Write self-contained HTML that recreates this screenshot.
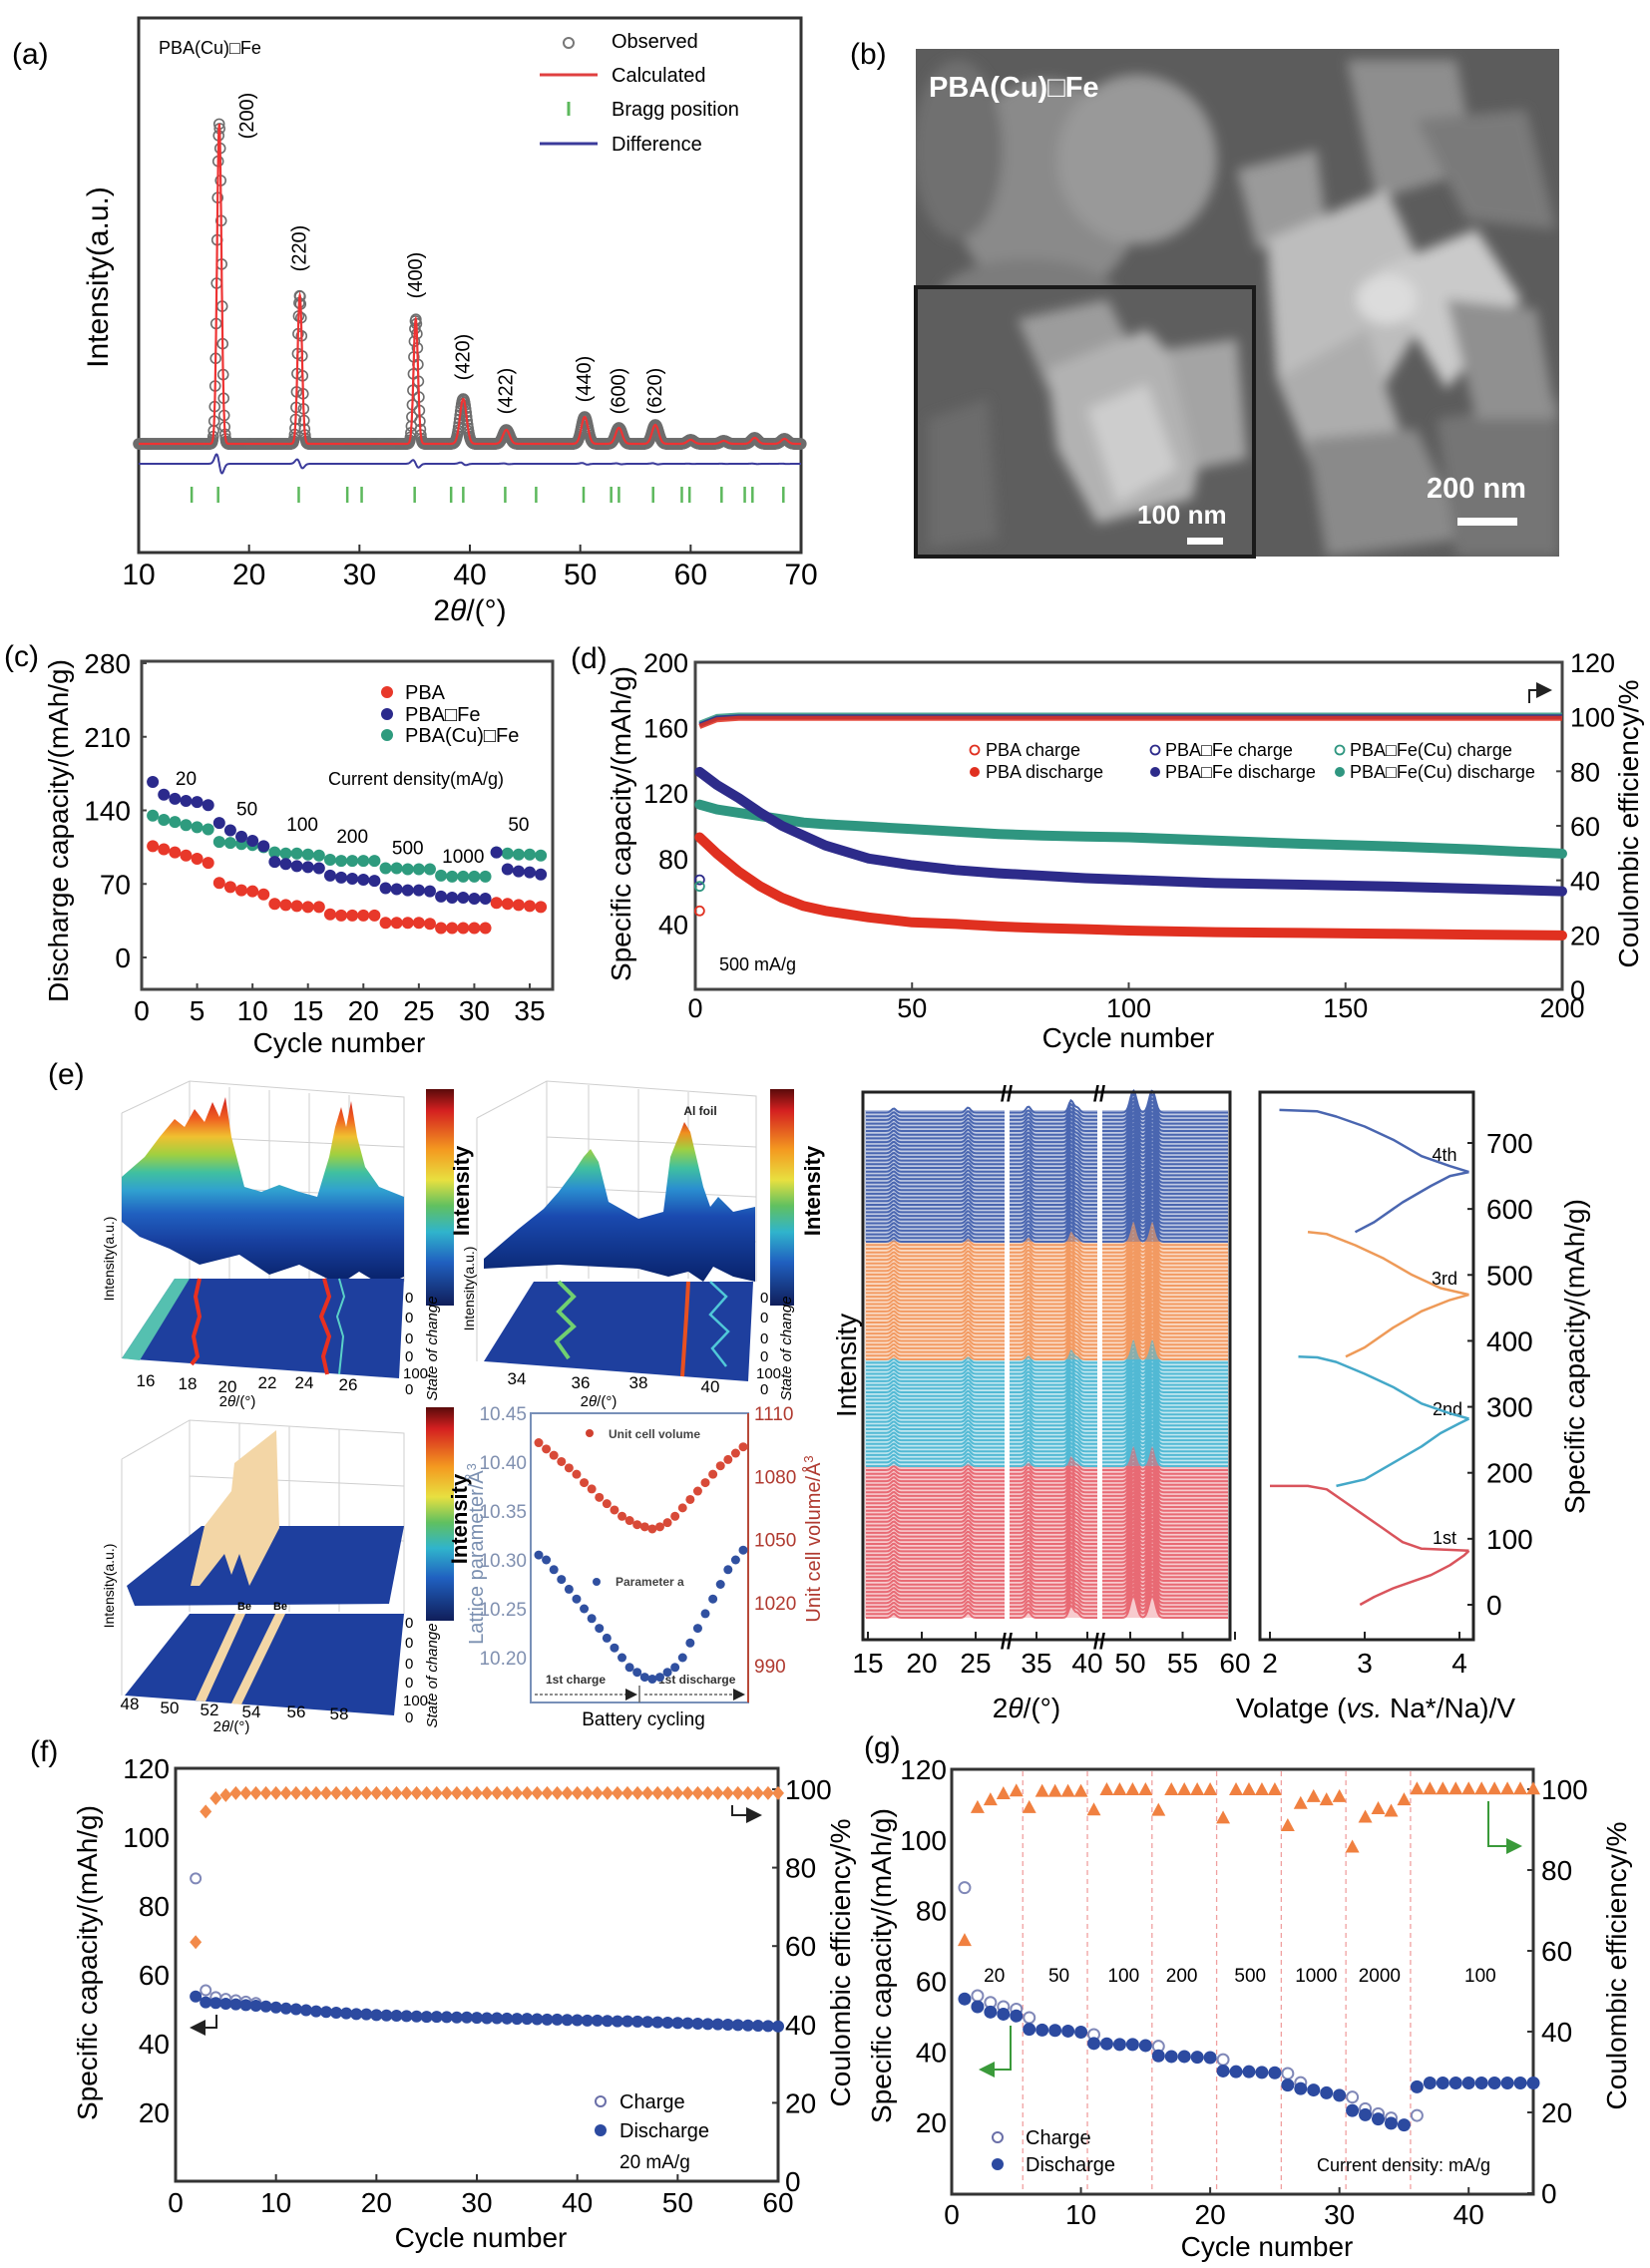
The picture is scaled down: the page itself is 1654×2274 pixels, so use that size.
<!DOCTYPE html>
<html><head><meta charset="utf-8"><title>PBA figure</title>
<style>
html,body{margin:0;padding:0;background:#fff}
svg{display:block;font-family:"Liberation Sans",Arial,sans-serif}
</style></head><body>
<svg id="fig" xmlns="http://www.w3.org/2000/svg" width="1654" height="2274" viewBox="0 0 1654 2274">
<defs>
<linearGradient id="cbar" x1="0" y1="0" x2="0" y2="1">
<stop offset="0" stop-color="#5a0a0a"/><stop offset="0.1" stop-color="#d42020"/><stop offset="0.28" stop-color="#f49a20"/><stop offset="0.42" stop-color="#e8e040"/><stop offset="0.54" stop-color="#60c060"/><stop offset="0.66" stop-color="#30b4cc"/><stop offset="0.8" stop-color="#2060c0"/><stop offset="1" stop-color="#101e5a"/>
</linearGradient>
<linearGradient id="surf1" gradientUnits="userSpaceOnUse" x1="0" y1="1100" x2="0" y2="1280">
<stop offset="0" stop-color="#d02020"/><stop offset="0.12" stop-color="#f06020"/><stop offset="0.22" stop-color="#f0c030"/><stop offset="0.32" stop-color="#a0d040"/><stop offset="0.42" stop-color="#40c0a0"/><stop offset="0.52" stop-color="#30a0d0"/><stop offset="0.65" stop-color="#2060c0"/><stop offset="0.8" stop-color="#1840a0"/><stop offset="1" stop-color="#0a2570"/>
</linearGradient>
<linearGradient id="surf2" gradientUnits="userSpaceOnUse" x1="0" y1="1120" x2="0" y2="1280">
<stop offset="0" stop-color="#d02020"/><stop offset="0.1" stop-color="#f09020"/><stop offset="0.2" stop-color="#a0d040"/><stop offset="0.32" stop-color="#40c0a0"/><stop offset="0.45" stop-color="#2a8ed0"/><stop offset="0.62" stop-color="#1a4ab0"/><stop offset="1" stop-color="#0a2570"/>
</linearGradient>
<filter id="blur6"><feGaussianBlur stdDeviation="6"/></filter>
<marker id="arrK" markerWidth="8" markerHeight="8" refX="6" refY="4" orient="auto"><path d="M0,0 L8,4 L0,8 z" fill="#222"/></marker>
<marker id="arrG" markerWidth="8" markerHeight="8" refX="6" refY="4" orient="auto"><path d="M0,0 L8,4 L0,8 z" fill="#3a9a3a"/></marker>
</defs>

<!-- ===== Panel (a) ===== -->
<g id="pa">
<text x="12" y="64" font-size="30">(a)</text>
<rect x="139" y="18" width="664" height="536" fill="none" stroke="#333" stroke-width="3"/>
<text x="159" y="54" font-size="18">PBA(Cu)□Fe</text>
<text transform="translate(108,278) rotate(-90)" text-anchor="middle" font-size="30">Intensity(a.u.)</text>
<text x="471" y="622" text-anchor="middle" font-size="30">2<tspan font-style="italic">θ</tspan>/(°)</text>
<g>
<circle cx="570" cy="43" r="5" fill="none" stroke="#777" stroke-width="2"/>
<text x="613" y="48" font-size="20">Observed</text>
<line x1="541" y1="75" x2="599" y2="75" stroke="#e04040" stroke-width="3"/>
<text x="613" y="82" font-size="20">Calculated</text>
<line x1="570" y1="102" x2="570" y2="116" stroke="#5cb85c" stroke-width="3"/>
<text x="613" y="116" font-size="20">Bragg position</text>
<line x1="541" y1="144" x2="599" y2="144" stroke="#3b3b9b" stroke-width="3"/>
<text x="613" y="151" font-size="20">Difference</text>
</g>
<g id="pa-plot"></g>
</g>

<!-- ===== Panel (b) SEM ===== -->
<g id="pb">
<text x="852" y="64" font-size="30">(b)</text>
<svg x="918" y="49" width="645" height="509" viewBox="918 49 645 509">
<rect x="918" y="49" width="645" height="509" fill="#5c5c5c"/>
<g filter="url(#blur6)">
<ellipse cx="1050" cy="190" rx="95" ry="110" fill="#8a8a8a"/>
<ellipse cx="1140" cy="160" rx="80" ry="85" fill="#999"/>
<ellipse cx="960" cy="150" rx="45" ry="90" fill="#707070"/>
<ellipse cx="1030" cy="300" rx="90" ry="40" fill="#7c7c7c"/>
<polygon points="1350,60 1460,60 1480,170 1380,200" fill="#8e8e8e"/>
<polygon points="1240,170 1320,150 1330,230 1260,250" fill="#9a9a9a"/>
<polygon points="1270,240 1390,190 1440,300 1380,400 1280,380" fill="#bdbdbd"/>
<polygon points="1380,270 1480,230 1525,300 1450,390" fill="#cacaca"/>
<polygon points="1280,380 1370,330 1410,450 1320,480" fill="#adadad"/>
<polygon points="1420,120 1530,110 1560,230 1470,220" fill="#7a7a7a"/>
<polygon points="1310,440 1420,430 1470,540 1330,558" fill="#8a8a8a"/>
<polygon points="1440,420 1563,400 1563,558 1460,558" fill="#747474"/>
<polygon points="1450,300 1540,310 1560,420 1480,420" fill="#909090"/>
<ellipse cx="1390" cy="300" rx="30" ry="25" fill="#dcdcdc"/>
</g>
</svg>
<svg x="918" y="288" width="339" height="270" viewBox="918 288 339 270">
<rect x="918" y="288" width="339" height="270" fill="#5e5e5e"/>
<g filter="url(#blur6)">
<polygon points="1020,320 1110,300 1140,360 1050,390" fill="#9c9c9c"/>
<polygon points="1050,370 1150,330 1215,400 1195,500 1100,525 1060,450" fill="#b2b2b2"/>
<polygon points="1090,410 1150,385 1180,470 1120,505" fill="#cdcdcd"/>
<polygon points="1170,350 1240,340 1250,460 1200,470" fill="#a4a4a4"/>
<polygon points="930,420 990,400 1000,540 930,550" fill="#6c6c6c"/>
</g>
</svg>
<rect x="918" y="288" width="339" height="270" fill="none" stroke="#1a1a1a" stroke-width="4"/>
<text x="931" y="97" font-size="29" font-weight="bold" fill="#fff">PBA(Cu)□Fe</text>
<text x="1430" y="499" font-size="29" font-weight="bold" fill="#fff">200 nm</text>
<rect x="1461" y="519" width="60" height="8" fill="#fff"/>
<text x="1140" y="525" font-size="26" font-weight="bold" fill="#fff">100 nm</text>
<rect x="1190" y="539" width="36" height="7" fill="#fff"/>
</g>

<!-- ===== Panel (c) ===== -->
<g id="pc">
<text x="4" y="668" font-size="30">(c)</text>
<rect x="142" y="663" width="412" height="329" fill="none" stroke="#444" stroke-width="3"/>
<text transform="translate(68,833) rotate(-90)" text-anchor="middle" font-size="28">Discharge capacity/(mAh/g)</text>
<text x="340" y="1055" text-anchor="middle" font-size="28">Cycle number</text>
<g>
<circle cx="388" cy="694" r="6" fill="#e8382a"/>
<text x="406" y="701" font-size="20">PBA</text>
<circle cx="388" cy="716" r="6" fill="#2b2a8c"/>
<text x="406" y="723" font-size="20">PBA□Fe</text>
<circle cx="388" cy="737" r="6" fill="#2e9b7e"/>
<text x="406" y="744" font-size="20">PBA(Cu)□Fe</text>
<text x="329" y="787" font-size="18">Current density(mA/g)</text>
</g>
<g id="pc-plot"></g>
</g>

<!-- ===== Panel (d) ===== -->
<g id="pd">
<text x="572" y="670" font-size="30">(d)</text>
<rect x="697" y="664" width="869" height="328" fill="none" stroke="#444" stroke-width="3"/>
<text transform="translate(632,826) rotate(-90)" text-anchor="middle" font-size="28">Specific capacity/(mAh/g)</text>
<text transform="translate(1642,826) rotate(-90)" text-anchor="middle" font-size="28">Coulombic efficiency/%</text>
<text x="1131" y="1050" text-anchor="middle" font-size="28">Cycle number</text>
<text x="721" y="973" font-size="18">500 mA/g</text>
<path d="M1533,705 L1533,692 L1552,692" fill="none" stroke="#222" stroke-width="2" marker-end="url(#arrK)"/>
<g font-size="18">
<circle cx="977" cy="752" r="4.5" fill="none" stroke="#e03020" stroke-width="1.8"/>
<text x="988" y="758">PBA charge</text>
<circle cx="977" cy="774" r="5" fill="#e03020"/>
<text x="988" y="780">PBA discharge</text>
<circle cx="1158" cy="752" r="4.5" fill="none" stroke="#2d2b8a" stroke-width="1.8"/>
<text x="1168" y="758">PBA□Fe charge</text>
<circle cx="1158" cy="774" r="5" fill="#2d2b8a"/>
<text x="1168" y="780">PBA□Fe discharge</text>
<circle cx="1343" cy="752" r="4.5" fill="none" stroke="#2f9680" stroke-width="1.8"/>
<text x="1353" y="758">PBA□Fe(Cu) charge</text>
<circle cx="1343" cy="774" r="5" fill="#2f9680"/>
<text x="1353" y="780">PBA□Fe(Cu) discharge</text>
</g>
<g id="pd-plot"></g>
</g>

<!-- ===== Panel (e) ===== -->
<g id="pe">
<text x="48" y="1087" font-size="30">(e)</text>

<!-- 3D plot 1 -->
<g>
<g stroke="#cfcfcf" stroke-width="1" fill="none">
<path d="M122,1116 L190,1084 L405,1100 L405,1285 M190,1084 L190,1282 M122,1116 L122,1362 M230,1090 L230,1282 M270,1093 L270,1282 M310,1096 L310,1282 M350,1098 L350,1282 M190,1140 L405,1150 M190,1190 L405,1200 M190,1240 L405,1245"/>
</g>
<polygon points="122,1180 145,1160 160,1140 175,1122 185,1130 195,1112 205,1125 213,1105 220,1120 226,1100 232,1140 245,1190 262,1195 280,1188 300,1195 318,1200 330,1160 336,1130 342,1110 347,1130 352,1104 358,1140 366,1170 380,1190 405,1200 405,1280 385,1290 360,1275 340,1288 300,1268 270,1278 240,1258 200,1268 170,1252 140,1240 122,1225" fill="url(#surf1)"/>
<polygon points="175,1282 405,1282 400,1382 122,1362" fill="#1e3f9e"/>
<polygon points="122,1362 175,1282 190,1282 140,1364" fill="#55c0b0"/>
<path d="M200,1282 L196,1300 L200,1320 L194,1340 L198,1360 L192,1368" stroke="#e83020" stroke-width="4" fill="none"/>
<path d="M325,1282 L330,1300 L322,1320 L330,1340 L324,1360 L328,1378" stroke="#e83020" stroke-width="4" fill="none"/>
<path d="M340,1282 L345,1300 L338,1320 L344,1340 L340,1378" stroke="#5ad0c8" stroke-width="2" fill="none"/>
<rect x="427" y="1092" width="28" height="217" fill="url(#cbar)"/>
<text transform="translate(470,1194) rotate(-90)" text-anchor="middle" font-size="22" font-weight="bold">Intensity</text>
<text transform="translate(114,1262) rotate(-90)" text-anchor="middle" font-size="14">Intensity(a.u.)</text>
<g font-size="17" text-anchor="middle">
<text x="146" y="1390">16</text><text x="188" y="1393">18</text><text x="228" y="1396">20</text><text x="268" y="1392">22</text><text x="305" y="1392">24</text><text x="349" y="1394">26</text>
</g>
<text x="238" y="1410" text-anchor="middle" font-size="15">2<tspan font-style="italic">θ</tspan>/(°)</text>
<g font-size="15"><text x="406" y="1306">0</text><text x="406" y="1326">0</text><text x="406" y="1347">0</text><text x="406" y="1365">0</text><text x="404" y="1382">100</text><text x="406" y="1398">0</text></g>
<text transform="translate(438,1352) rotate(-90)" text-anchor="middle" font-size="15" font-style="italic">State of change</text>
</g>

<!-- 3D plot 2 -->
<g>
<g stroke="#cfcfcf" stroke-width="1" fill="none">
<path d="M478,1121 L548,1084 L758,1099 L758,1285 M548,1084 L548,1282 M478,1121 L478,1365 M590,1088 L590,1282 M640,1092 L640,1282 M690,1095 L690,1282 M548,1140 L758,1150 M548,1190 L758,1200 M548,1240 L758,1245"/>
</g>
<polygon points="485,1262 520,1232 545,1212 560,1195 575,1175 585,1160 592,1152 600,1165 610,1205 640,1222 665,1215 672,1160 680,1140 686,1125 692,1135 698,1160 705,1190 712,1210 720,1200 735,1215 757,1210 757,1285 735,1280 715,1270 705,1285 690,1275 670,1280 640,1272 600,1270 560,1268 520,1270 485,1272" fill="url(#surf2)"/>
<text x="702" y="1118" text-anchor="middle" font-size="12" font-weight="bold" fill="#222">Al foil</text>
<polygon points="535,1285 755,1285 750,1385 485,1365" fill="#1e3f9e"/>
<path d="M560,1285 L575,1300 L560,1315 L575,1330 L558,1345 L570,1362" stroke="#70d070" stroke-width="4" fill="none"/>
<path d="M690,1285 L688,1320 L684,1380" stroke="#e85020" stroke-width="4" fill="none"/>
<path d="M712,1285 L728,1300 L712,1318 L730,1335 L714,1352 L728,1370" stroke="#50c8d8" stroke-width="2.5" fill="none"/>
<rect x="772" y="1092" width="24" height="217" fill="url(#cbar)"/>
<text transform="translate(822,1194) rotate(-90)" text-anchor="middle" font-size="22" font-weight="bold">Intensity</text>
<text transform="translate(475,1292) rotate(-90)" text-anchor="middle" font-size="14">Intensity(a.u.)</text>
<g font-size="17" text-anchor="middle">
<text x="518" y="1388">34</text><text x="582" y="1392">36</text><text x="640" y="1392">38</text><text x="712" y="1396">40</text>
</g>
<text x="600" y="1410" text-anchor="middle" font-size="15">2<tspan font-style="italic">θ</tspan>/(°)</text>
<g font-size="15"><text x="762" y="1306">0</text><text x="762" y="1326">0</text><text x="762" y="1347">0</text><text x="762" y="1365">0</text><text x="758" y="1382">100</text><text x="762" y="1398">0</text></g>
<text transform="translate(793,1352) rotate(-90)" text-anchor="middle" font-size="15" font-style="italic">State of change</text>
</g>

<!-- 3D plot 3 -->
<g>
<g stroke="#cfcfcf" stroke-width="1" fill="none">
<path d="M122,1463 L190,1424 L405,1437 L405,1618 M190,1424 L190,1616 M122,1463 L122,1700 M240,1427 L240,1616 M290,1430 L290,1616 M340,1433 L340,1616 M190,1480 L405,1490 M190,1540 L405,1545"/>
</g>
<polygon points="127,1590 202,1530 405,1530 390,1608 135,1610" fill="#1e3f9e"/>
<polygon points="191,1590 205,1530 232,1495 235,1467 277,1434 280,1532 250,1590 240,1558 232,1579 225,1558 200,1590" fill="#f3d6a6"/>
<polygon points="190,1618 405,1618 395,1720 125,1700" fill="#1e3f9e"/>
<polygon points="236,1618 246,1618 206,1706 196,1705" fill="#f3d6a6"/>
<polygon points="276,1618 286,1618 242,1709 232,1708" fill="#f3d6a6"/>
<text x="245" y="1614" text-anchor="middle" font-size="11" font-weight="bold">Be</text>
<text x="281" y="1614" text-anchor="middle" font-size="11" font-weight="bold">Be</text>
<rect x="427" y="1411" width="28" height="214" fill="url(#cbar)"/>
<text transform="translate(468,1523) rotate(-90)" text-anchor="middle" font-size="22" font-weight="bold">Intensity</text>
<text transform="translate(114,1590) rotate(-90)" text-anchor="middle" font-size="14">Intensity(a.u.)</text>
<g font-size="17" text-anchor="middle">
<text x="130" y="1714">48</text><text x="170" y="1718">50</text><text x="210" y="1720">52</text><text x="252" y="1722">54</text><text x="297" y="1722">56</text><text x="340" y="1724">58</text>
</g>
<text x="232" y="1736" text-anchor="middle" font-size="15">2<tspan font-style="italic">θ</tspan>/(°)</text>
<g font-size="15"><text x="406" y="1632">0</text><text x="406" y="1652">0</text><text x="406" y="1673">0</text><text x="406" y="1692">0</text><text x="404" y="1710">100</text><text x="406" y="1727">0</text></g>
<text transform="translate(438,1680) rotate(-90)" text-anchor="middle" font-size="15" font-style="italic">State of change</text>
</g>

<!-- lattice plot -->
<g>
<rect x="532" y="1417" width="218" height="290" fill="none" stroke="#7890b8" stroke-width="2"/>
<line x1="750" y1="1417" x2="750" y2="1707" stroke="#b84a3a" stroke-width="2"/>
<text transform="translate(484,1558) rotate(-90)" text-anchor="middle" font-size="20" fill="#7a8fb0">Lattice parameter/Å<tspan baseline-shift="super" font-size="13">3</tspan></text>
<text transform="translate(822,1543) rotate(-90)" text-anchor="middle" font-size="20" fill="#b03a30">Unit cell volume/Å<tspan baseline-shift="super" font-size="13">3</tspan></text>
<text x="645" y="1730" text-anchor="middle" font-size="19">Battery cycling</text>
<circle cx="591" cy="1437" r="4" fill="#d04030"/>
<text x="610" y="1442" font-size="12" font-weight="bold" fill="#444">Unit cell volume</text>
<circle cx="598" cy="1586" r="4" fill="#3050a0"/>
<text x="617" y="1590" font-size="12" font-weight="bold" fill="#444">Parameter a</text>
<text x="547" y="1688" font-size="12" font-weight="bold" fill="#333">1st charge</text>
<text x="660" y="1688" font-size="12" font-weight="bold" fill="#333">1st discharge</text>
<line x1="536" y1="1699" x2="636" y2="1699" stroke="#666" stroke-width="1.5" stroke-dasharray="3,2" marker-end="url(#arrK)"/>
<line x1="646" y1="1699" x2="744" y2="1699" stroke="#666" stroke-width="1.5" stroke-dasharray="3,2" marker-end="url(#arrK)"/>
<line x1="641" y1="1690" x2="641" y2="1707" stroke="#666" stroke-width="1.5"/>
<g id="lat-plot"></g>
</g>

<!-- stacked XRD -->
<g>
<g id="xrd-plot"></g>
<rect x="865" y="1095" width="368" height="549" fill="none" stroke="#222" stroke-width="3"/>
<rect x="1007" y="1098" width="5" height="543" fill="#fff"/>
<rect x="1100" y="1098" width="5" height="543" fill="#fff"/>
<text x="1009" y="1104" text-anchor="middle" font-size="22" font-weight="bold">//</text>
<text x="1102" y="1104" text-anchor="middle" font-size="22" font-weight="bold">//</text>
<text x="1009" y="1653" text-anchor="middle" font-size="22" font-weight="bold">//</text>
<text x="1102" y="1653" text-anchor="middle" font-size="22" font-weight="bold">//</text>
<text transform="translate(858,1369) rotate(-90)" text-anchor="middle" font-size="28">Intensity</text>
<text x="1029" y="1722" text-anchor="middle" font-size="28">2<tspan font-style="italic">θ</tspan>/(°)</text>
</g>

<!-- voltage profile -->
<g>
<rect x="1263" y="1095" width="214" height="549" fill="none" stroke="#222" stroke-width="3"/>
<text transform="translate(1588,1360) rotate(-90)" text-anchor="middle" font-size="28">Specific capacity/(mAh/g)</text>
<text x="1379" y="1722" text-anchor="middle" font-size="28">Volatge (<tspan font-style="italic">vs.</tspan> Na*/Na)/V</text>
<text x="1448" y="1548" text-anchor="middle" font-size="18">1st</text>
<text x="1451" y="1419" text-anchor="middle" font-size="18">2nd</text>
<text x="1448" y="1288" text-anchor="middle" font-size="18">3rd</text>
<text x="1448" y="1164" text-anchor="middle" font-size="18">4th</text>
<g id="volt-plot"></g>
</g>
</g>

<!-- ===== Panel (f) ===== -->
<g id="pf">
<text x="30" y="1766" font-size="30">(f)</text>
<rect x="176" y="1773" width="604" height="414" fill="none" stroke="#333" stroke-width="3"/>
<text transform="translate(97,1968) rotate(-90)" text-anchor="middle" font-size="28">Specific capacity/(mAh/g)</text>
<text transform="translate(852,1968) rotate(-90)" text-anchor="middle" font-size="28">Coulombic efficiency/%</text>
<text x="482" y="2253" text-anchor="middle" font-size="28">Cycle number</text>
<circle cx="602" cy="2107" r="5" fill="none" stroke="#6a6fa8" stroke-width="2"/>
<text x="621" y="2114" font-size="20">Charge</text>
<circle cx="602" cy="2136" r="6" fill="#2c4aa0"/>
<text x="621" y="2143" font-size="20">Discharge</text>
<text x="621" y="2174" font-size="19">20 mA/g</text>
<path d="M217,2020 L217,2033 L194,2033" fill="none" stroke="#222" stroke-width="2" marker-end="url(#arrK)"/>
<path d="M734,1810 L734,1820 L760,1820" fill="none" stroke="#222" stroke-width="2" marker-end="url(#arrK)"/>
<g id="pf-plot"></g>
</g>

<!-- ===== Panel (g) ===== -->
<g id="pg">
<text x="866" y="1762" font-size="30">(g)</text>
<rect x="954" y="1774" width="583" height="426" fill="none" stroke="#333" stroke-width="3"/>
<text transform="translate(893,1971) rotate(-90)" text-anchor="middle" font-size="28">Specific capacity/(mAh/g)</text>
<text transform="translate(1630,1971) rotate(-90)" text-anchor="middle" font-size="28">Coulombic efficiency/%</text>
<text x="1270" y="2262" text-anchor="middle" font-size="28">Cycle number</text>
<circle cx="1000" cy="2143" r="5" fill="none" stroke="#6a6fa8" stroke-width="2"/>
<text x="1028" y="2150" font-size="20">Charge</text>
<circle cx="1000" cy="2170" r="6" fill="#2c4aa0"/>
<text x="1028" y="2177" font-size="20">Discharge</text>
<text x="1320" y="2177" font-size="18">Current density: mA/g</text>
<path d="M1013,2031 L1013,2075 L985,2075" fill="none" stroke="#3a9a3a" stroke-width="2" marker-end="url(#arrG)"/>
<path d="M1492,1806 L1492,1851 L1522,1851" fill="none" stroke="#3a9a3a" stroke-width="2" marker-end="url(#arrG)"/>
<g id="pg-plot"></g>
</g>
</svg>

<script>
const NS = "http://www.w3.org/2000/svg";
function mk(tag, attrs, parent) {
  const e = document.createElementNS(NS, tag);
  for (const k in attrs) e.setAttribute(k, attrs[k]);
  parent.appendChild(e);
  return e;
}
function pts(xs, ys) { return xs.map((x, i) => x.toFixed(1) + "," + ys[i].toFixed(1)).join(" "); }

/* ---------- Panel (a) data ---------- */
const aPeakPos = [17.3, 24.6, 35.1, 39.4, 43.3, 50.4, 53.5, 56.8, 60.0, 63.0, 65.8, 68.5];
const aPeakInt = [321, 149, 125, 45, 14, 27, 16, 19, 4, 3, 6, 5];
const aBragg = [14.8, 17.2, 24.5, 28.9, 30.2, 35.0, 38.3, 39.4, 43.2, 46.0, 50.3, 52.8, 53.5, 56.6, 59.2, 59.9, 62.8, 64.9, 65.6, 68.4];
const aTicks = [10, 20, 30, 40, 50, 60, 70];
const aHkl = ["(200)", "(220)", "(400)", "(420)", "(422)", "(440)", "(600)", "(620)"];
const aHklY = [116, 249, 276, 358, 392, 380, 392, 392];
/* ---------- Panel (c) data ---------- */
const cCycle = [1,2,3,4,5,6,7,8,9,10,11,12,13,14,15,16,17,18,19,20,21,22,23,24,25,26,27,28,29,30,31,32,33,34,35,36];
const cPBA = [106,103,100,97,94,90,71,67,64,63,60,51,50,49,48,48,41,40,40,40,40,33,33,33,33,32,28,28,28,28,28,52,51,50,49,48];
const cPBAFe = [167,155,151,149,148,145,128,121,115,111,106,91,89,87,86,85,78,76,75,74,73,66,65,64,64,63,58,57,57,56,56,100,84,82,81,79];
const cPBACuFe = [135,131,129,126,124,122,110,109,108,107,105,100,99,99,98,97,93,92,92,92,92,85,85,84,84,84,78,77,77,77,77,100,99,98,98,97];
const cYTicks = [0, 70, 140, 210, 280];
const cXTicks = [0, 5, 10, 15, 20, 25, 30, 35];
const cRateLabels = ["20", "50", "100", "200", "500", "1000", "50"];
const cRateCycle = [4, 9.5, 14.5, 19, 24, 29, 34];
const cRateVal = [171, 142, 127, 116, 105, 97, 127];
/* ---------- Panel (d) data ---------- */
const dCycle = [1, 5, 10, 15, 20, 25, 30, 40, 50, 60, 70, 80, 90, 100, 120, 140, 160, 180, 200];
const dPBA = [93, 83, 72, 63, 56, 51, 48, 44, 41, 40, 38.5, 37.5, 36.8, 36, 35, 34.5, 34, 33.5, 33];
const dPBAFe = [133, 125, 117, 108, 100, 94, 88, 80, 76, 73, 71, 69.5, 68, 67, 65, 64, 63, 61.5, 60];
const dPBACuFe = [113, 110, 108, 106, 104, 102, 101, 99.5, 98, 96.5, 95, 94, 93.5, 93, 91, 89, 87.5, 85.5, 83];
const dCE = [97, 99.5, 100, 100, 100, 100, 100, 100, 100, 100, 100, 100, 100, 100, 100, 100, 100, 100, 100];
const dChargeFirst = [48, 67, 63];
const dLeftTicks = [40, 80, 120, 160, 200];
const dRightTicks = [0, 20, 40, 60, 80, 100, 120];
const dXTicks = [0, 50, 100, 150, 200];
/* ---------- Panel (e) lattice data ---------- */
const latVolume = [1096,1093,1090,1087,1084,1081,1077,1074,1070,1067,1064,1061,1059,1057,1056,1055,1056,1058,1061,1065,1069,1073,1077,1081,1085,1088,1091,1094];
const latParamA = [10.305,10.300,10.290,10.280,10.270,10.260,10.250,10.240,10.230,10.220,10.210,10.200,10.190,10.185,10.180,10.178,10.180,10.185,10.190,10.200,10.215,10.230,10.245,10.260,10.275,10.290,10.300,10.310];
const latLeftTicks = [10.20, 10.25, 10.30, 10.35, 10.40, 10.45];
const latRightTicks = [990, 1020, 1050, 1080, 1110];
/* ---------- Panel (e) stacked XRD ---------- */
const xrdPeakPos = [17.4, 24.3, 34.2, 38.4, 39.0, 50.3, 52.1];
const xrdPeakH = [4, 5, 6, 12, 5, 22, 22];
const xrdTicks = [15, 20, 25, 35, 40, 50, 55, 60];
const xrdBandColor = ["#e86a74", "#52b9d4", "#f29a62", "#4a66b0"];
const xrdBandTop = [1470, 1363, 1245, 1113];
const xrdBandBottom = [1622, 1470, 1363, 1245];
/* ---------- Panel (e) voltage curves ---------- */
const vCycleColor = ["#d9545c", "#44a8c8", "#ee9a58", "#4a66b0"];
const vChargeV = [[2.95,3.1,3.3,3.5,3.7,3.9,4.05,4.1],[2.7,3.0,3.3,3.6,3.8,4.0,4.1],[2.8,3.0,3.3,3.6,3.9,4.1],[2.9,3.1,3.4,3.7,3.9,4.1]];
const vChargeC = [[0,12,25,35,45,60,75,82],[180,190,215,240,260,275,282],[376,390,420,445,462,470],[565,580,610,635,650,656]];
const vDisV = [[4.1,3.6,3.4,3.2,3.0,2.8,2.6,2.4,2.0],[4.1,3.9,3.6,3.3,3.0,2.7,2.5,2.3],[4.1,3.8,3.5,3.2,2.9,2.6,2.4],[4.1,3.9,3.6,3.3,3.0,2.7,2.5,2.1]];
const vDisC = [[82,85,95,115,135,155,175,180,180],[282,290,305,330,350,368,375,376],[470,480,500,525,545,562,565],[656,665,680,705,725,740,748,750]];
const vXTicks = [2, 3, 4];
const vYTicks = [0, 100, 200, 300, 400, 500, 600, 700];
/* ---------- Panel (f) data ---------- */
const fCycle = [2,3,4,5,6,7,8,9,10,11,12,13,14,15,16,17,18,19,20,21,22,23,24,25,26,27,28,29,30,31,32,33,34,35,36,37,38,39,40,41,42,43,44,45,46,47,48,49,50,51,52,53,54,55,56,57,58,59,60];
const fDischarge = [53.7,52,51.8,51.6,51.4,51.2,51,50.8,50.5,50.2,50,49.7,49.4,49.2,49,48.8,48.6,48.5,48.3,48.2,48.1,48,47.9,47.8,47.8,47.7,47.6,47.6,47.5,47.4,47.4,47.3,47.2,47.2,47.1,47,47,46.9,46.8,46.7,46.7,46.6,46.5,46.5,46.4,46.3,46.2,46.1,46,45.9,45.8,45.7,45.6,45.5,45.4,45.3,45.2,45.1,45];
const fChargeCycle = [2, 3, 4, 5, 6, 7, 8];
const fCharge = [88, 55.5, 53.5, 53, 52.6, 52.2, 51.8];
const fCE = [61,94.3,97.7,98.5,99,99,99,99,99,99,99,99,99,99,99,99,99,99,99,99,99,99,99,99,99,99,99,99,99,99,99,99,99,99,99,99,99,99,99,99,99,99,99,99,99,99,99,99,99,99,99,99,99,99,99,99,99,99,99];
const fLeftTicks = [20, 40, 60, 80, 100, 120];
const fRightTicks = [0, 20, 40, 60, 80, 100];
const fXTicks = [0, 10, 20, 30, 40, 50, 60];
/* ---------- Panel (g) data ---------- */
const gCycle = [1,2,3,4,5,6,7,8,9,10,11,12,13,14,15,16,17,18,19,20,21,22,23,24,25,26,27,28,29,30,31,32,33,34,35,36,37,38,39,40,41,42,43,44,45];
const gDischarge = [55,52.8,51.3,50.7,50.2,46.4,46.2,46.1,45.9,45.6,42.4,42.3,42.1,42.1,41.8,38.9,38.7,38.7,38.5,38.4,34.6,34.4,34.4,34.2,34.1,30.6,29.6,29.2,28.4,27.7,23.4,22.2,21,19.8,19.3,30.1,31.2,31.2,31.2,31.2,31.2,31.2,31.2,31.2,31.2];
const gChargeCycle = [1, 2, 3, 4, 5, 6, 11, 16, 21, 26, 27, 31, 32, 33, 34, 36];
const gCharge = [86.5, 55.9, 54, 52.8, 52.1, 49.7, 44.9, 41.6, 37.8, 33.9, 31.3, 27.2, 23.9, 22.5, 21.3, 22];
const gCE = [62.7,95.6,97.5,99,99.7,95.6,99.6,99.6,99.6,99.6,95,100,100,100,100,94.9,100,100,100,100,93,100,100,100,100,91.1,96.6,98.3,97.5,98.3,85.8,93.2,95.3,94.7,97.5,100.2,100.2,100.2,100.2,100.2,100.2,100.2,100.2,100.2,100.2];
const gRateLabels = ["20", "50", "100", "200", "500", "1000", "2000", "100"];
const gRateCycle = [3.3, 8.3, 13.3, 17.8, 23.1, 28.2, 33.1, 40.9];
const gDividers = [5.5, 10.5, 15.5, 20.5, 25.5, 30.5, 35.5];
const gLeftTicks = [20, 40, 60, 80, 100, 120];
const gRightTicks = [0, 20, 40, 60, 80, 100];
const gXTicks = [0, 10, 20, 30, 40];

/* ================= Panel (a) ================= */
(function () {
  const g = document.getElementById("pa-plot");
  const xA = d => 139 + (d - 10) * (803 - 139) / 60;
  const yA = I => 445 - I;
  function calc(d) {
    let s = 0;
    for (let i = 0; i < aPeakPos.length; i++) {
      const sg = i < 3 ? 0.2 : 0.3;
      s += aPeakInt[i] * Math.exp(-Math.pow(d - aPeakPos[i], 2) / (2 * sg * sg));
    }
    return s;
  }
  for (let d = 10; d <= 70.001; d += 0.045) {
    const c = mk("circle", { cx: xA(d).toFixed(1), cy: yA(calc(d)).toFixed(1), r: 5, fill: "none", stroke: "#6d6d6d", "stroke-width": 1.6 }, g);
    
    
  }
  const cx = [], cy = [], dx = [], dy = [];
  for (let d = 10; d <= 70.001; d += 0.02) {
    cx.push(xA(d)); cy.push(yA(calc(d)));
    let diff = 0;
    for (let i = 0; i < aPeakPos.length; i++) {
      const t = d - aPeakPos[i];
      diff += aPeakInt[i] * 0.05 * (t / 0.25) * Math.exp(-t * t / (2 * 0.06));
    }
    dx.push(xA(d)); dy.push(465 + diff);
  }
  const calcLine = mk("polyline", { points: pts(cx, cy), fill: "none", stroke: "#e33", "stroke-width": 2.2 }, g);
  
  
  const diffLine = mk("polyline", { points: pts(dx, dy), fill: "none", stroke: "#3b3b9b", "stroke-width": 2 }, g);
  
  
  aBragg.forEach(b => {
    const t = mk("line", { x1: xA(b), x2: xA(b), y1: 488, y2: 504, stroke: "#5cb85c", "stroke-width": 2.5 }, g);
    
    
  });
  aTicks.forEach(v => {
    const tk = mk("line", { x1: xA(v), x2: xA(v), y1: 554, y2: 546, stroke: "#333", "stroke-width": 2 }, g);
    
    
    const tl = mk("text", { x: xA(v), y: 586, "text-anchor": "middle", "font-size": 30 }, g);
    tl.textContent = v;
    
    
  });
  aHkl.forEach((h, i) => {
    const x = xA(aPeakPos[i]) + (i === 0 ? 28 : 0);
    const t = mk("text", { transform: "translate(" + (x + 6) + "," + aHklY[i] + ") rotate(-90)", "text-anchor": "middle", "font-size": 20 }, g);
    t.textContent = h;
    
    
  });
})();

/* ================= Panel (c) ================= */
(function () {
  const g = document.getElementById("pc-plot");
  const xC = c => 142 + c * (531 - 142) / 35;
  const yC = v => 960 - v * (960 - 665) / 280;
  cYTicks.forEach(v => {
    const l = mk("text", { x: 131, y: yC(v) + 10, "text-anchor": "end", "font-size": 28 }, g);
    l.textContent = v;
    
    
    const t = mk("line", { x1: 142, x2: 147, y1: yC(v), y2: yC(v), stroke: "#444", "stroke-width": 2 }, g);
    
    
  });
  cXTicks.forEach(v => {
    const l = mk("text", { x: xC(v), y: 1023, "text-anchor": "middle", "font-size": 28 }, g);
    l.textContent = v;
    
    
    const t = mk("line", { x1: xC(v), x2: xC(v), y1: 992, y2: 986, stroke: "#444", "stroke-width": 2 }, g);
    
    
  });
  const series = [[cPBACuFe, "#2e9b7e", "pba-cu-fe"], [cPBA, "#e8382a", "pba"], [cPBAFe, "#2b2a8c", "pba-fe"]];
  series.forEach(s => {
    s[0].forEach((v, i) => {
      const c = mk("circle", { cx: xC(cCycle[i]), cy: yC(v), r: 6, fill: s[1] }, g);
      
      
    });
  });
  cRateLabels.forEach((t, i) => {
    const l = mk("text", { x: xC(cRateCycle[i]), y: yC(cRateVal[i]) + 7, "text-anchor": "middle", "font-size": 19 }, g);
    l.textContent = t;
    
    
  });
})();

/* ================= Panel (d) ================= */
(function () {
  const g = document.getElementById("pd-plot");
  const xD = c => 697 + c * (1566 - 697) / 200;
  const yL = v => 992 - v * 328 / 200;
  const yR = v => 992 - v * 328 / 120;
  dLeftTicks.forEach(v => {
    const l = mk("text", { x: 690, y: yL(v) + 10, "text-anchor": "end", "font-size": 27 }, g);
    l.textContent = v;
    
    
  });
  dRightTicks.forEach(v => {
    const l = mk("text", { x: 1574, y: yR(v) + 10, "font-size": 27 }, g);
    l.textContent = v;
    
    
    const t = mk("line", { x1: 1566, x2: 1560, y1: yR(v), y2: yR(v), stroke: "#444", "stroke-width": 2 }, g);
    
    
  });
  dXTicks.forEach(v => {
    const l = mk("text", { x: xD(v), y: 1020, "text-anchor": "middle", "font-size": 27 }, g);
    l.textContent = v;
    
    
    const t = mk("line", { x1: xD(v), x2: xD(v), y1: 992, y2: 985, stroke: "#444", "stroke-width": 2 }, g);
    
    
  });
  const ceCols = ["#2f9680", "#2d2b8a", "#e03020"];
  ceCols.forEach((col, k) => {
    const p = mk("polyline", { points: pts(dCycle.map(xD), dCE.map(v => yR(v + 0.6 - k * 0.6))), fill: "none", stroke: col, "stroke-width": 5, opacity: 0.85 }, g);
    
    
  });
  const series = [[dPBACuFe, "#2f9680", "pba-fe-cu-discharge"], [dPBAFe, "#2d2b8a", "pba-fe-discharge"], [dPBA, "#e03020", "pba-discharge"]];
  series.forEach(s => {
    const p = mk("polyline", { points: pts(dCycle.map(xD), s[0].map(yL)), fill: "none", stroke: s[1], "stroke-width": 10, "stroke-linejoin": "round", "stroke-linecap": "round" }, g);
    
    
  });
  const chCols = ["#e03020", "#2d2b8a", "#2f9680"];
  dChargeFirst.forEach((v, i) => {
    const c = mk("circle", { cx: xD(1), cy: yL(v), r: 4.5, fill: "none", stroke: chCols[i], "stroke-width": 1.8 }, g);
    
    
  });
})();

/* ================= Panel (e) lattice ================= */
(function () {
  const g = document.getElementById("lat-plot");
  const xL = i => 540 + i * (745 - 540) / (latVolume.length - 1);
  const yA = a => 1417 + (10.45 - a) * (1662 - 1417) / 0.25;
  const yV = v => 1417 + (1110 - v) * (1670 - 1417) / 120;
  latLeftTicks.forEach(v => {
    const l = mk("text", { x: 528, y: yA(v) + 7, "text-anchor": "end", "font-size": 19, fill: "#8090b0" }, g);
    l.textContent = v.toFixed(2);
    
    
  });
  latRightTicks.forEach(v => {
    const l = mk("text", { x: 756, y: yV(v) + 7, "font-size": 19, fill: "#b03a30" }, g);
    l.textContent = v;
    
    
  });
  latVolume.forEach((v, i) => {
    const c = mk("circle", { cx: xL(i), cy: yV(v), r: 4.5, fill: "#d84a38" }, g);
    
    
  });
  latParamA.forEach((v, i) => {
    const c = mk("circle", { cx: xL(i), cy: yA(v), r: 4.5, fill: "#3050a0" }, g);
    
    
  });
})();

/* ================= Panel (e) stacked XRD ================= */
(function () {
  const g = document.getElementById("xrd-plot");
  function xX(d) {
    if (d <= 28) return 870 + (d - 15) * 10.8;
    if (d <= 42) return 1039 + (d - 35) * 10.2;
    return 1133 + (d - 50) * 10.5;
  }
  xrdTicks.forEach(v => {
    const l = mk("text", { x: xX(v), y: 1677, "text-anchor": "middle", "font-size": 28 }, g);
    l.textContent = v;
    
    
    const t = mk("line", { x1: xX(v), x2: xX(v), y1: 1644, y2: 1636, stroke: "#222", "stroke-width": 2 }, g);
    
    
  });
  const peakPx = xrdPeakPos.map(xX);
  xrdBandColor.forEach((col, b) => {
    const bg = mk("rect", { x: 867, y: xrdBandTop[b], width: 364, height: xrdBandBottom[b] - xrdBandTop[b], fill: col, opacity: 0.35 }, g);
    
    
    for (let y0 = xrdBandBottom[b]; y0 >= xrdBandTop[b]; y0 -= 3.7) {
      const xs = [], ys = [];
      for (let x = 868; x <= 1231; x += 1.5) {
        let dy = 0;
        for (let k = 0; k < peakPx.length; k++) {
          const s = xrdPeakH[k] > 15 ? 3.2 : 2.4;
          dy += xrdPeakH[k] * Math.exp(-Math.pow(x - peakPx[k], 2) / (2 * s * s));
        }
        xs.push(x); ys.push(y0 - dy);
      }
      const p = mk("polyline", { points: pts(xs, ys), fill: "none", stroke: col, "stroke-width": 2 }, g);
      
      
    }
  });
})();

/* ================= Panel (e) voltage ================= */
(function () {
  const g = document.getElementById("volt-plot");
  const xV = v => 1273 + (v - 2) * 95;
  const yV = c => 1609 - c * (1609 - 1146) / 700;
  vXTicks.forEach(v => {
    const l = mk("text", { x: xV(v), y: 1677, "text-anchor": "middle", "font-size": 28 }, g);
    l.textContent = v;
    
    
    const t = mk("line", { x1: xV(v), x2: xV(v), y1: 1644, y2: 1636, stroke: "#222", "stroke-width": 2 }, g);
    
    
  });
  vYTicks.forEach(v => {
    const l = mk("text", { x: 1490, y: yV(v) + 10, "font-size": 28 }, g);
    l.textContent = v;
    
    
    const t = mk("line", { x1: 1477, x2: 1471, y1: yV(v), y2: yV(v), stroke: "#222", "stroke-width": 2 }, g);
    
    
  });
  vCycleColor.forEach((col, k) => {
    const c1 = mk("polyline", { points: pts(vChargeV[k].map(xV), vChargeC[k].map(yV)), fill: "none", stroke: col, "stroke-width": 2.5, "stroke-linejoin": "round" }, g);
    
    
    const c2 = mk("polyline", { points: pts(vDisV[k].map(xV), vDisC[k].map(yV)), fill: "none", stroke: col, "stroke-width": 2.5, "stroke-linejoin": "round" }, g);
    
    
  });
})();

/* ================= Panel (f) ================= */
(function () {
  const g = document.getElementById("pf-plot");
  const xF = c => 176 + c * 604 / 60;
  const yL = v => 2187 - v * 414 / 120;
  const yR = v => 2187 - v * 3.93;
  fLeftTicks.forEach(v => {
    const l = mk("text", { x: 170, y: yL(v) + 10, "text-anchor": "end", "font-size": 28 }, g);
    l.textContent = v;
    
    
  });
  fRightTicks.forEach(v => {
    const l = mk("text", { x: 787, y: yR(v) + 10, "font-size": 28 }, g);
    l.textContent = v;
    
    
    const t = mk("line", { x1: 780, x2: 774, y1: yR(v), y2: yR(v), stroke: "#333", "stroke-width": 2 }, g);
    
    
  });
  fXTicks.forEach(v => {
    const l = mk("text", { x: xF(v), y: 2218, "text-anchor": "middle", "font-size": 28 }, g);
    l.textContent = v;
    
    
    const t = mk("line", { x1: xF(v), x2: xF(v), y1: 2187, y2: 2180, stroke: "#333", "stroke-width": 2 }, g);
    
    
  });
  fChargeCycle.forEach((c, i) => {
    const m = mk("circle", { cx: xF(c), cy: yL(fCharge[i]), r: 5, fill: "none", stroke: "#8088b8", "stroke-width": 2 }, g);
    
    
  });
  fCycle.forEach((c, i) => {
    const m = mk("circle", { cx: xF(c), cy: yL(fDischarge[i]), r: 6, fill: "#2c4aa0" }, g);
    
    
    const x = xF(c), y = yR(fCE[i]);
    const d = mk("polygon", { points: x + "," + (y - 7) + " " + (x + 6) + "," + y + " " + x + "," + (y + 7) + " " + (x - 6) + "," + y, fill: "#f28a4a" }, g);
    
    
  });
})();

/* ================= Panel (g) ================= */
(function () {
  const g = document.getElementById("pg-plot");
  const xG = c => 954 + c * 583 / 45;
  const yL = v => 2199 - v * 425 / 120;
  const yR = v => 2199 - v * 4.05;
  gDividers.forEach(c => {
    const l = mk("line", { x1: xG(c), x2: xG(c), y1: 1776, y2: 2198, stroke: "#f0a0a0", "stroke-width": 1.3, "stroke-dasharray": "5,4" }, g);
    
    
  });
  gLeftTicks.forEach(v => {
    const l = mk("text", { x: 949, y: yL(v) + 10, "text-anchor": "end", "font-size": 28 }, g);
    l.textContent = v;
    
    
  });
  gRightTicks.forEach(v => {
    const l = mk("text", { x: 1545, y: yR(v) + 10, "font-size": 28 }, g);
    l.textContent = v;
    
    
    const t = mk("line", { x1: 1537, x2: 1531, y1: yR(v), y2: yR(v), stroke: "#333", "stroke-width": 2 }, g);
    
    
  });
  gXTicks.forEach(v => {
    const l = mk("text", { x: xG(v), y: 2230, "text-anchor": "middle", "font-size": 28 }, g);
    l.textContent = v;
    
    
    const t = mk("line", { x1: xG(v), x2: xG(v), y1: 2200, y2: 2193, stroke: "#333", "stroke-width": 2 }, g);
    
    
  });
  gRateLabels.forEach((t, i) => {
    const l = mk("text", { x: xG(gRateCycle[i]), y: 1987, "text-anchor": "middle", "font-size": 19 }, g);
    l.textContent = t;
    
    
  });
  gChargeCycle.forEach((c, i) => {
    const m = mk("circle", { cx: xG(c), cy: yL(gCharge[i]), r: 5.5, fill: "none", stroke: "#8088b8", "stroke-width": 2 }, g);
    
    
  });
  gCycle.forEach((c, i) => {
    const m = mk("circle", { cx: xG(c), cy: yL(gDischarge[i]), r: 6.5, fill: "#2c4aa0" }, g);
    
    
    const x = xG(c), y = yR(gCE[i]);
    const t = mk("polygon", { points: x + "," + (y - 7) + " " + (x + 7) + "," + (y + 6) + " " + (x - 7) + "," + (y + 6), fill: "#f08040" }, g);
    
    
  });
})();
</script>
</body></html>
